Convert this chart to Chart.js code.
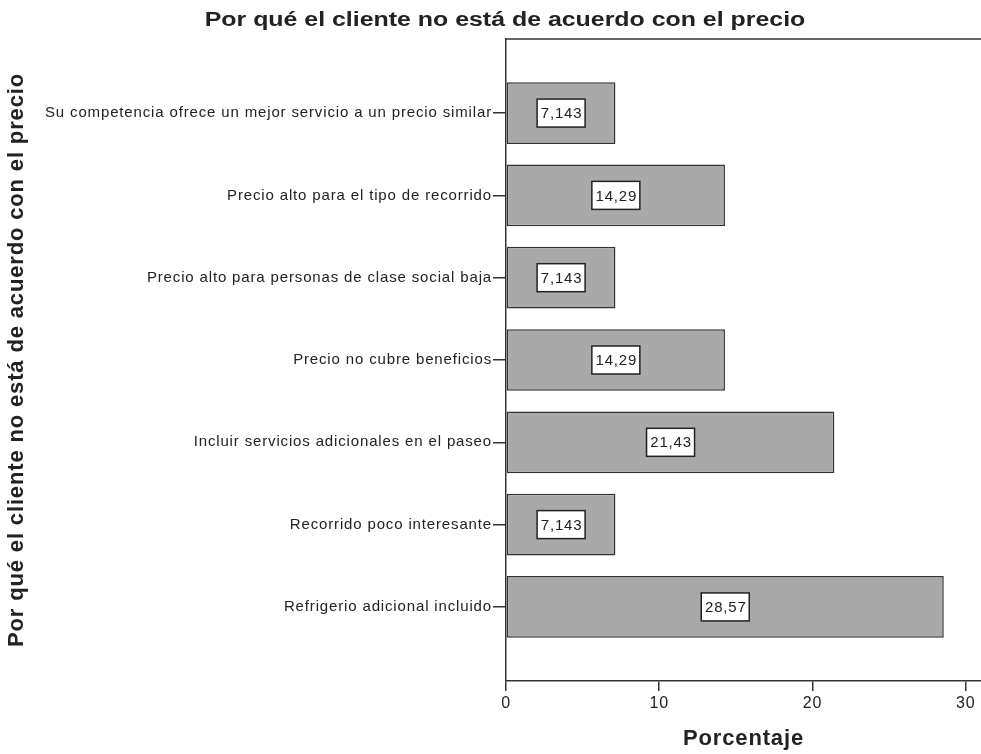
<!DOCTYPE html>
<html>
<head>
<meta charset="utf-8">
<script src="https://cdn.jsdelivr.net/npm/chart.js@4"></script>
<style>
  html, body { margin: 0; padding: 0; background: #fff; }
  #wrap { width: 981px; height: 754px; }
</style>
</head>
<body>
<div id="wrap"><canvas id="chart"></canvas></div>
<script>
const categories = [
  'Su competencia ofrece un mejor servicio a un precio similar',
  'Precio alto para el tipo de recorrido',
  'Precio alto para personas de clase social baja',
  'Precio no cubre beneficios',
  'Incluir servicios adicionales en el paseo',
  'Recorrido poco interesante',
  'Refrigerio adicional incluido'
];
const values = [7.143, 14.29, 7.143, 14.29, 21.43, 7.143, 28.57];
const valueLabels = ['7,143', '14,29', '7,143', '14,29', '21,43', '7,143', '28,57'];
const xTicks = [0, 10, 20, 30];

const titleText = 'Por qué el cliente no está de acuerdo con el precio';
const FONT = '"Liberation Sans", Arial, sans-serif';

// the scan is stretched sideways, so spread the letters a bit
const spacing = {
  id: 'spacing',
  beforeDraw(chart) {
    chart.ctx.letterSpacing = '0.85px';
  }
};

// title + top border + value boxes
const extras = {
  id: 'extras',
  afterDatasetsDraw(chart) {
    const ctx = chart.ctx;
    const area = chart.chartArea;
    ctx.save();
    ctx.strokeStyle = '#333';
    ctx.lineWidth = 1.5;
    ctx.beginPath();
    ctx.moveTo(area.left, area.top);
    ctx.lineTo(area.right, area.top);
    ctx.stroke();

    ctx.letterSpacing = '0.8px';
    ctx.font = '15px ' + FONT;
    ctx.textAlign = 'center';
    ctx.textBaseline = 'middle';
    const meta = chart.getDatasetMeta(0);
    meta.data.forEach((bar, i) => {
      const cx = (bar.x + bar.base) / 2;
      const cy = bar.y;
      const w = 48, h = 28;
      ctx.fillStyle = '#fff';
      ctx.fillRect(cx - w / 2, cy - h / 2, w, h);
      ctx.strokeStyle = '#222';
      ctx.lineWidth = 1.5;
      ctx.strokeRect(cx - w / 2, cy - h / 2, w, h);
      ctx.fillStyle = '#222';
      ctx.fillText(valueLabels[i], cx + 0.5, cy + 1);
    });

    ctx.letterSpacing = '0px';
    ctx.font = 'bold 20px ' + FONT;
    ctx.fillStyle = '#222';
    ctx.translate(505, 20);
    ctx.scale(1.245, 1);
    ctx.fillText(titleText, 0, 0);
    ctx.restore();
  }
};

new Chart(document.getElementById('chart'), {
  type: 'bar',
  data: {
    datasets: [{
      data: values.map((v, i) => ({ x: v, y: i })),
      backgroundColor: '#a9a9a9',
      borderColor: '#333',
      borderWidth: 1.5,
      borderSkipped: false,
      categoryPercentage: 1,
      barPercentage: 0.75
    }]
  },
  options: {
    indexAxis: 'y',
    responsive: true,
    maintainAspectRatio: false,
    animation: false,
    layout: { padding: { top: 39, left: 0, right: 0, bottom: 0 } },
    plugins: {
      legend: { display: false },
      tooltip: { enabled: false }
    },
    scales: {
      x: {
        type: 'linear',
        min: 0,
        max: 31,
        afterFit(scale) { scale.height = 73; },
        afterBuildTicks(scale) { scale.ticks = xTicks.map(v => ({ value: v })); },
        grid: { drawOnChartArea: false, tickLength: 10, color: '#333', lineWidth: 1.5 },
        border: { display: true, color: '#333', width: 1.5 },
        ticks: {
          color: '#222',
          padding: 3,
          font: { family: FONT, size: 16 }
        },
        title: {
          display: true,
          text: 'Porcentaje',
          color: '#222',
          padding: { top: 0, bottom: 2 },
          font: { family: FONT, size: 22, weight: 'bold' }
        }
      },
      y: {
        type: 'linear',
        reverse: true,
        offset: false,
        min: -0.9,
        max: 6.9,
        afterFit(scale) { scale.width = 506; },
        afterBuildTicks(scale) { scale.ticks = categories.map((c, i) => ({ value: i })); },
        grid: { offset: false, drawOnChartArea: false, tickLength: 13, color: '#333', lineWidth: 1.5 },
        border: { display: true, color: '#333', width: 1.5 },
        ticks: {
          autoSkip: false,
          color: '#222',
          padding: 1,
          font: { family: FONT, size: 15 },
          callback: (v) => categories[v]
        },
        title: {
          display: true,
          text: titleText,
          color: '#222',
          padding: { top: 4, bottom: 0 },
          font: { family: FONT, size: 22, weight: 'bold' }
        }
      }
    }
  },
  plugins: [spacing, extras]
});
</script>
</body>
</html>
